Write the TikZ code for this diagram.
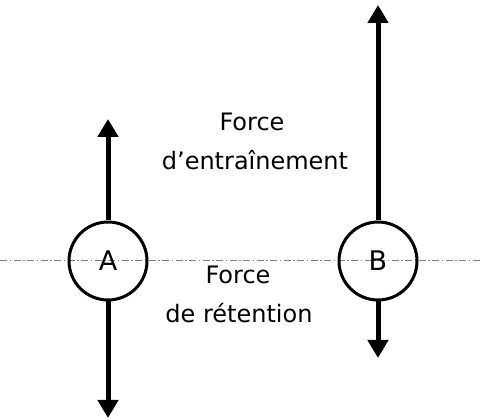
\documentclass[tikz,border=0pt]{standalone}
\usepackage{fontspec}
\setmainfont{DejaVu Sans}
\usepackage{tikz}
\usetikzlibrary{arrows.meta}
\tikzset{
  bille/.style={draw, circle, line width=3pt, minimum size=78pt, inner sep=0pt, font=\fontsize{27}{30}\selectfont},
  force/.style={line width=5pt, -{Triangle[width=20pt,length=18pt]}},
  etiquette/.style={font=\fontsize{24}{26}\selectfont, align=center}
}

\begin{document}
\begin{tikzpicture}[x=1pt,y=1pt]
\useasboundingbox (0,0) rectangle (480,420);
\draw[gray, line width=1pt, dash pattern=on 7pt off 2.5pt on 1.5pt off 2.5pt] (0,159) to (480,159);

\node[bille] (A) at (108,159) {A};
\node[bille] (B) at (378,159) {B};

\coordinate (hautA) at (108,301);
\coordinate (basA) at (108,2);
\coordinate (hautB) at (378,415);
\coordinate (basB) at (378,62);

\draw[force] (A.north) to (hautA);
\draw[force] (A.south) to (basA);
\draw[force] (B.north) to (hautB);
\draw[force] (B.south) to (basB);

\node[etiquette] (f1) at (252,298) {Force};
\node[etiquette] (e1) at (255,260) {d’entraînement};
\node[etiquette] (f2) at (238,145) {Force};
\node[etiquette] (r2) at (239,107) {de rétention};
\end{tikzpicture}
\end{document}
